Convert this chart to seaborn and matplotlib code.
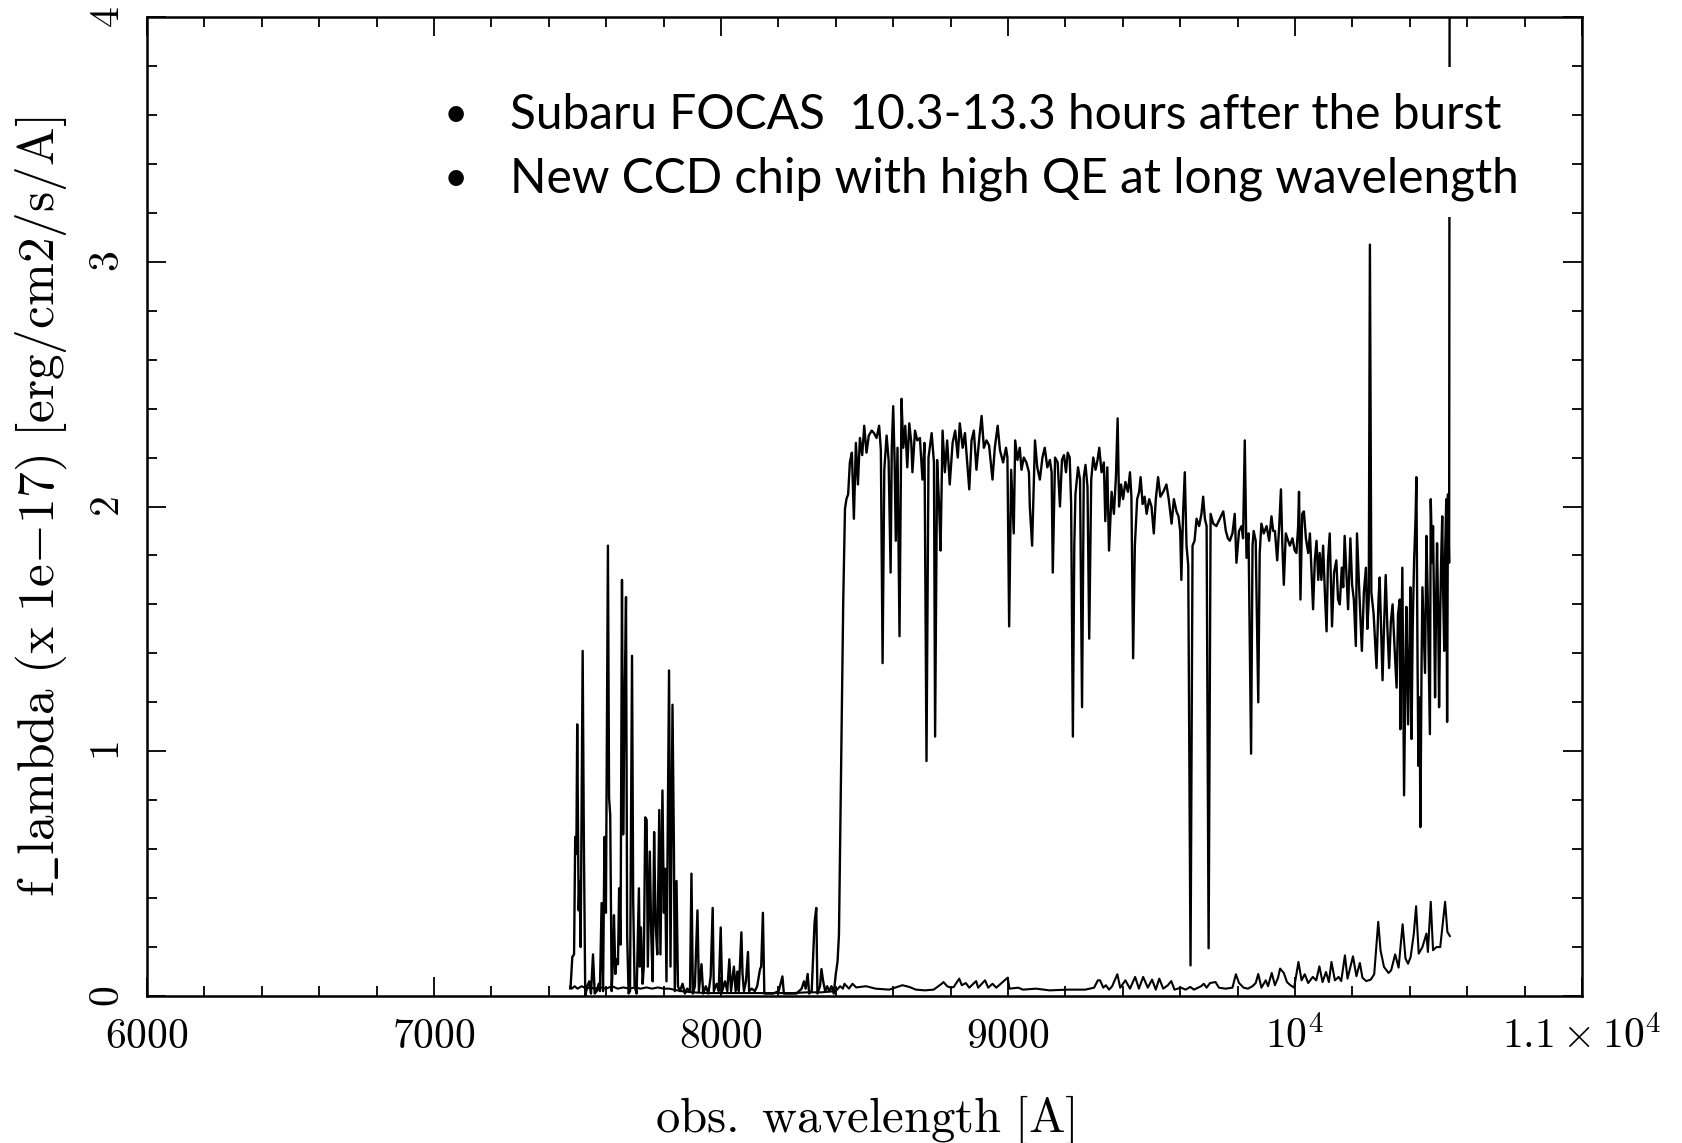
import numpy as np
import pandas as pd
import seaborn as sns
import matplotlib
matplotlib.use("Agg")
import matplotlib.pyplot as plt
from matplotlib.patches import Rectangle

# ---------------- data ----------------
# blue "forest" part of the spectrum (7470-8430 A)
wave_forest = [7474, 7476, 7482, 7488, 7492, 7496, 7499, 7504, 7507, 7511, 7518, 7522, 7527, 7534, 7541, 7547,
               7554, 7560, 7567, 7574, 7578, 7584, 7589, 7594, 7599, 7606, 7610, 7614, 7619, 7623, 7627, 7632,
               7636, 7641, 7645, 7650, 7655, 7659, 7663, 7669, 7673, 7678, 7683, 7690, 7694, 7699, 7706, 7714,
               7717, 7721, 7727, 7731, 7736, 7741, 7745, 7752, 7757, 7762, 7767, 7772, 7778, 7785, 7789, 7796,
               7801, 7805, 7810, 7819, 7824, 7831, 7836, 7839, 7845, 7850, 7857, 7866, 7874, 7882, 7892, 7897,
               7902, 7909, 7918, 7923, 7932, 7938, 7947, 7956, 7964, 7971, 7975, 7985, 7992, 7999, 8004, 8014,
               8022, 8029, 8035, 8045, 8051, 8057, 8062, 8071, 8075, 8080, 8087, 8094, 8098, 8107, 8118, 8126,
               8136, 8140, 8146, 8151, 8165, 8182, 8201, 8214, 8219, 8240, 8263, 8281, 8289, 8295, 8302, 8307,
               8316, 8326, 8332, 8336, 8345, 8350, 8356, 8363, 8370, 8377, 8385, 8393, 8400, 8406, 8411, 8414,
               8420, 8426]
flux_forest = [0.03, 0.04, 0.16, 0.17, 0.65, 0.58, 1.11, 0.35, 0.47, 0.20, 1.41, 0.66, 0.00, 0.04, 0.06, 0.01,
               0.17, 0.01, 0.02, 0.05, 0.02, 0.38, 0.02, 0.65, 0.34, 1.84, 0.81, 0.74, 0.02, 0.13, 0.33, 0.09,
               0.15, 0.13, 0.44, 0.21, 1.70, 0.66, 1.10, 1.63, 0.25, 0.01, 0.02, 1.39, 0.39, 0.04, 0.01, 0.44,
               0.12, 0.28, 0.05, 0.12, 0.73, 0.72, 0.12, 0.59, 0.25, 0.06, 0.67, 0.30, 0.17, 0.76, 0.17, 0.84,
               0.34, 0.52, 0.06, 1.33, 0.12, 1.19, 0.60, 0.02, 0.47, 0.04, 0.02, 0.05, 0.01, 0.03, 0.02, 0.50,
               0.01, 0.04, 0.35, 0.02, 0.13, 0.01, 0.04, 0.01, 0.08, 0.36, 0.02, 0.05, 0.02, 0.28, 0.02, 0.06,
               0.02, 0.15, 0.02, 0.12, 0.02, 0.10, 0.02, 0.26, 0.09, 0.02, 0.06, 0.18, 0.02, 0.03, 0.02, 0.04,
               0.11, 0.12, 0.34, 0.01, 0.01, 0.01, 0.02, 0.08, 0.01, 0.01, 0.01, 0.03, 0.06, 0.03, 0.09, 0.01,
               0.02, 0.30, 0.36, 0.01, 0.04, 0.11, 0.06, 0.02, 0.04, 0.02, 0.04, 0.01, 0.09, 0.14, 0.25, 0.53,
               1.07, 1.62]

# continuum 8430-9350 A
wave_cont1 = [8432, 8437, 8443, 8449, 8456, 8463, 8470, 8477, 8484, 8492, 8499, 8507, 8515, 8525, 8533, 8542,
              8551, 8557, 8563, 8569, 8577, 8584, 8591, 8595, 8600, 8605, 8609, 8615, 8622, 8629, 8635, 8642,
              8649, 8656, 8663, 8667, 8676, 8684, 8693, 8702, 8709, 8716, 8723, 8734, 8742, 8746, 8753, 8760,
              8765, 8772, 8780, 8788, 8797, 8807, 8816, 8825, 8832, 8842, 8850, 8857, 8865, 8873, 8881, 8890,
              8900, 8908, 8916, 8925, 8934, 8946, 8954, 8964, 8972, 8983, 8993, 8998, 9004, 9011, 9020, 9025,
              9033, 9041, 9047, 9055, 9064, 9073, 9076, 9084, 9094, 9102, 9111, 9120, 9128, 9137, 9146, 9152,
              9156, 9164, 9173, 9181, 9188, 9195, 9202, 9208, 9215, 9220, 9226, 9231, 9235, 9244, 9251, 9258,
              9264, 9270, 9277, 9283, 9290, 9297, 9305, 9312, 9318, 9326, 9334, 9339, 9346, 9352]
flux_cont1 = [1.99, 2.03, 2.05, 2.18, 2.22, 1.95, 2.26, 2.09, 2.28, 2.21, 2.33, 2.22, 2.29, 2.31, 2.30, 2.28,
              2.33, 2.23, 1.36, 2.15, 2.29, 2.19, 1.73, 2.24, 2.41, 2.18, 1.86, 2.24, 1.47, 2.44, 2.24, 2.33,
              2.16, 2.34, 2.26, 2.14, 2.31, 2.27, 2.28, 2.11, 2.26, 0.96, 2.20, 2.30, 2.18, 1.06, 2.19, 2.00,
              1.82, 2.31, 2.14, 2.27, 2.09, 2.26, 2.31, 2.20, 2.34, 2.24, 2.30, 2.19, 2.07, 2.27, 2.31, 2.15,
              2.28, 2.37, 2.24, 2.27, 2.25, 2.11, 2.24, 2.33, 2.23, 2.18, 2.24, 2.20, 1.51, 2.15, 1.89, 2.27,
              2.19, 2.24, 2.15, 2.20, 2.18, 2.14, 2.00, 1.84, 2.27, 2.16, 2.11, 2.20, 2.24, 2.16, 2.19, 2.14,
              1.73, 2.20, 2.18, 2.00, 2.19, 2.21, 2.14, 2.22, 2.20, 2.01, 1.06, 1.84, 2.05, 2.16, 2.11, 1.18,
              2.12, 2.17, 2.08, 1.46, 2.11, 2.20, 2.15, 2.19, 2.24, 2.14, 2.18, 1.94, 2.16, 1.82]

# continuum 9360-10365 A
wave_cont2 = [9361, 9369, 9376, 9382, 9387, 9394, 9401, 9409, 9418, 9425, 9430, 9436, 9442, 9450, 9457, 9462,
              9469, 9476, 9483, 9492, 9500, 9508, 9515, 9523, 9531, 9541, 9552, 9560, 9570, 9578, 9587, 9594,
              9600, 9604, 9610, 9616, 9622, 9628, 9636, 9643, 9650, 9657, 9666, 9674, 9680, 9686, 9692, 9699,
              9706, 9715, 9726, 9738, 9750, 9759, 9766, 9773, 9782, 9790, 9796, 9805, 9814, 9819, 9825, 9831,
              9838, 9847, 9852, 9856, 9863, 9872, 9877, 9883, 9891, 9901, 9910, 9918, 9924, 9930, 9938, 9945,
              9951, 9956, 9961, 9968, 9976, 9982, 9991, 9999, 10005, 10011, 10014, 10019, 10025, 10031, 10038,
              10046, 10052, 10057, 10063, 10069, 10075, 10081, 10086, 10092, 10098, 10104, 10110, 10115, 10121,
              10129, 10136, 10144, 10150, 10156, 10163, 10168, 10173, 10179, 10185, 10193, 10199, 10205, 10212,
              10216, 10223, 10233, 10240, 10247, 10252, 10257, 10261, 10266, 10274, 10284, 10291, 10295, 10301,
              10305, 10310, 10316, 10322, 10328, 10334, 10340, 10347, 10354, 10359, 10365]
flux_cont2 = [2.06, 1.97, 2.12, 2.36, 2.00, 2.09, 2.03, 2.10, 2.06, 2.14, 2.04, 1.38, 1.84, 2.03, 2.06, 2.12,
              2.01, 2.04, 1.97, 2.03, 2.00, 1.89, 2.03, 2.12, 2.04, 2.06, 2.09, 2.03, 1.93, 2.03, 1.98, 1.96,
              1.90, 1.70, 1.97, 2.14, 1.84, 1.76, 0.125, 1.84, 1.86, 1.95, 1.92, 1.97, 2.04, 1.95, 1.92, 0.195,
              1.97, 1.93, 1.92, 1.95, 1.98, 1.90, 1.87, 1.86, 1.89, 1.97, 1.77, 1.90, 1.92, 1.87, 2.27, 1.79,
              1.89, 0.99, 1.84, 1.90, 1.86, 1.20, 1.81, 1.93, 1.89, 1.92, 1.86, 1.96, 1.90, 1.90, 1.78, 1.92,
              2.07, 1.84, 1.68, 1.89, 1.86, 1.84, 1.87, 1.82, 1.81, 1.92, 2.06, 1.62, 1.97, 1.98, 1.87,
              1.81, 1.89, 1.75, 1.58, 1.78, 1.86, 1.70, 1.81, 1.70, 1.84, 1.65, 1.49, 1.78, 1.89,
              1.51, 1.73, 1.78, 1.62, 1.60, 1.75, 1.67, 1.88, 1.73, 1.58, 1.87, 1.68, 1.62, 1.43,
              1.89, 1.68, 1.41, 1.65, 1.75, 1.50, 1.62, 3.07, 1.65, 1.56, 1.34, 1.62, 1.71, 1.46,
              1.29, 1.50, 1.72, 1.50, 1.34, 1.53, 1.60, 1.42, 1.26, 1.56, 1.62]

# noisy red end 10365-10540 A
wave_red = [10367, 10374, 10380, 10385, 10388, 10394, 10399, 10402, 10406, 10410, 10415, 10420, 10423, 10427,
            10430, 10434, 10437, 10441, 10444, 10449, 10453, 10458, 10463, 10466, 10470, 10473, 10478, 10481,
            10485, 10488, 10492, 10495, 10499, 10502, 10506, 10509, 10513, 10516, 10520, 10523, 10527, 10530,
            10533, 10537, 10539]
flux_red = [1.09, 1.75, 0.82, 1.36, 1.59, 1.11, 1.44, 1.67, 1.05, 1.50, 1.78, 1.95, 2.12, 1.36,
            0.94, 1.22, 0.69, 1.36, 1.67, 1.47, 1.32, 1.88, 1.60, 1.36, 1.07, 2.03, 1.77, 1.92,
            1.55, 1.22, 1.63, 1.85, 1.55, 1.18, 1.56, 1.77, 1.96, 1.66, 1.41, 1.80, 2.03, 1.12,
            2.05, 1.77, 4.50]

# lower curve (error / sky spectrum)
wave_err = [7474, 7480, 7490, 7500, 7515, 7530, 7545, 7560, 7580, 7600, 7620, 7640, 7660, 7680, 7700, 7720,
            7740, 7760, 7780, 7800, 7820, 7840, 7860, 7900, 7950, 8000, 8050, 8100, 8150, 8200, 8250, 8300,
            8350, 8400, 8415, 8425, 8430, 8446, 8458, 8471, 8505, 8539, 8586, 8632, 8656, 8679, 8710, 8741,
            8769, 8775, 8788, 8800, 8811, 8830, 8839, 8853, 8865, 8889, 8896, 8920, 8931, 8946, 8959, 8999,
            9005, 9036, 9052, 9098, 9145, 9207, 9269, 9300, 9313, 9321, 9332, 9341, 9352, 9363, 9381, 9391,
            9409, 9425, 9443, 9456, 9471, 9487, 9502, 9515, 9527, 9541, 9557, 9569, 9580, 9603, 9619, 9635,
            9648, 9673, 9682, 9692, 9704, 9723, 9735, 9758, 9782, 9794, 9805, 9821, 9836, 9852, 9863, 9872,
            9883, 9898, 9906, 9919, 9930, 9941, 9948, 9961, 9972, 9984, 9997, 10012, 10023, 10034, 10046,
            10062, 10074, 10085, 10096, 10108, 10118, 10127, 10139, 10152, 10161, 10174, 10183, 10202, 10214,
            10226, 10235, 10248, 10264, 10276, 10290, 10298, 10310, 10326, 10335, 10349, 10361, 10375, 10385,
            10394, 10403, 10414, 10422, 10431, 10444, 10458, 10463, 10473, 10481, 10493, 10506, 10514, 10523,
            10531, 10540]
flux_err = [0.04, 0.03, 0.04, 0.03, 0.04, 0.03, 0.035, 0.03, 0.035, 0.03, 0.04, 0.03, 0.035, 0.03, 0.035, 0.03,
            0.035, 0.03, 0.035, 0.03, 0.03, 0.025, 0.02, 0.015, 0.012, 0.012, 0.012, 0.012, 0.012, 0.012, 0.012, 0.015,
            0.015, 0.02, 0.04, 0.03, 0.05, 0.03, 0.05, 0.035, 0.04, 0.03, 0.026, 0.044, 0.037, 0.026, 0.023, 0.026,
            0.05, 0.057, 0.04, 0.034, 0.037, 0.071, 0.044, 0.053, 0.034, 0.061, 0.034, 0.064, 0.034, 0.05, 0.034, 0.075,
            0.03, 0.034, 0.026, 0.03, 0.023, 0.026, 0.026, 0.034, 0.064, 0.064, 0.034, 0.044, 0.026, 0.04, 0.089, 0.034,
            0.064, 0.03, 0.078, 0.03, 0.078, 0.034, 0.067, 0.026, 0.071, 0.03, 0.044, 0.061, 0.026, 0.034, 0.026, 0.037,
            0.026, 0.04, 0.05, 0.034, 0.053, 0.057, 0.034, 0.03, 0.034, 0.089, 0.053, 0.034, 0.03, 0.04, 0.053, 0.09,
            0.034, 0.064, 0.04, 0.094, 0.044, 0.075, 0.112, 0.094, 0.057, 0.044, 0.034, 0.139, 0.064, 0.089, 0.053,
            0.078, 0.064, 0.121, 0.057, 0.098, 0.057, 0.139, 0.064, 0.078, 0.061, 0.166, 0.071, 0.162, 0.081,
            0.135, 0.075, 0.061, 0.067, 0.089, 0.303, 0.187, 0.119, 0.094, 0.105, 0.17, 0.116, 0.293, 0.153,
            0.132, 0.16, 0.255, 0.367, 0.173, 0.2, 0.255, 0.18, 0.385, 0.187, 0.2, 0.2, 0.289, 0.385,
            0.262, 0.244]

xtick_values = [6000, 7000, 8000, 9000, 10000, 11000]
xtick_labels = [r'$6000$', r'$7000$', r'$8000$', r'$9000$', r'$10^4$', r'$1.1\times10^4$']
ytick_values = [0, 1, 2, 3, 4]
ytick_labels = [r'$0$', r'$1$', r'$2$', r'$3$', r'$4$']
note_lines = ["Subaru FOCAS  10.3-13.3 hours after the burst",
              "New CCD chip with high QE at long wavelength"]

# ---------------- plotting ----------------
sns.set_theme(style="ticks")
plt.rcParams['font.family'] = ['DejaVu Serif']
plt.rcParams['mathtext.fontset'] = 'cm'
for key in ['text.color', 'axes.labelcolor', 'xtick.color', 'ytick.color', 'axes.edgecolor']:
    plt.rcParams[key] = 'black'

W, H = 1682, 1143
fig = plt.figure(figsize=(W / 100, H / 100), dpi=100)
ax = fig.add_axes([147 / W, 1 - 996 / H, (1582 - 147) / W, (996 - 17) / H])

main = pd.DataFrame({
    "wave": wave_forest + wave_cont1 + wave_cont2 + wave_red,
    "flux": flux_forest + flux_cont1 + flux_cont2 + flux_red,
})
err = pd.DataFrame({"wave": wave_err, "flux": flux_err})

sns.lineplot(data=main, x="wave", y="flux", sort=False, estimator=None,
             color="black", lw=1.7, ax=ax, zorder=2)
sns.lineplot(data=err, x="wave", y="flux", sort=False, estimator=None,
             color="black", lw=1.5, ax=ax, zorder=2)

ax.set_xlim(6000, 11000)
ax.set_ylim(0, 4)
ax.set_xticks(xtick_values)
ax.set_xticklabels(xtick_labels)
ax.set_xticks(np.arange(6000, 11001, 200), minor=True)
ax.set_yticks(ytick_values)
ax.set_yticklabels(ytick_labels, rotation=90, va='center')
ax.set_yticks(np.arange(0, 4.01, 0.2), minor=True)

ax.tick_params(which='both', direction='in', top=True, right=True, width=1.3, color='black')
ax.tick_params(which='major', length=14, labelsize=30, pad=14, labelcolor='black')
ax.tick_params(which='minor', length=7)
for s in ax.spines.values():
    s.set_linewidth(1.8)
    s.set_color('black')

ax.set_xlabel(r'$\mathrm{obs.\ wavelength\ [A]}$', fontsize=35, labelpad=26, color='black')
ax.set_ylabel(r'$\mathrm{f\_lambda\ (x\ 1e{-}17)\ [erg/cm2/s/A]}$', fontsize=37, labelpad=12,
              color='black')

# white box behind the annotation (it hides part of the last spike)
box = Rectangle((440 / W, 1 - 217 / H), (1545 - 440) / W, (217 - 67) / H,
                transform=fig.transFigure, facecolor='white', edgecolor='none',
                zorder=3, clip_on=False)
ax.add_patch(box)

note_y = [115, 179]
for txt, yy in zip(note_lines, note_y):
    ax.text(456 / W, 1 - yy / H, "\u2022", transform=fig.transFigure, fontsize=30,
            family='Lato', ha='center', va='center', zorder=4, color='black')
    ax.text(510 / W, 1 - yy / H, txt, transform=fig.transFigure, fontsize=34.5,
            family='Lato', ha='left', va='center', zorder=4, color='black')

fig.savefig("out.png", dpi=100)
